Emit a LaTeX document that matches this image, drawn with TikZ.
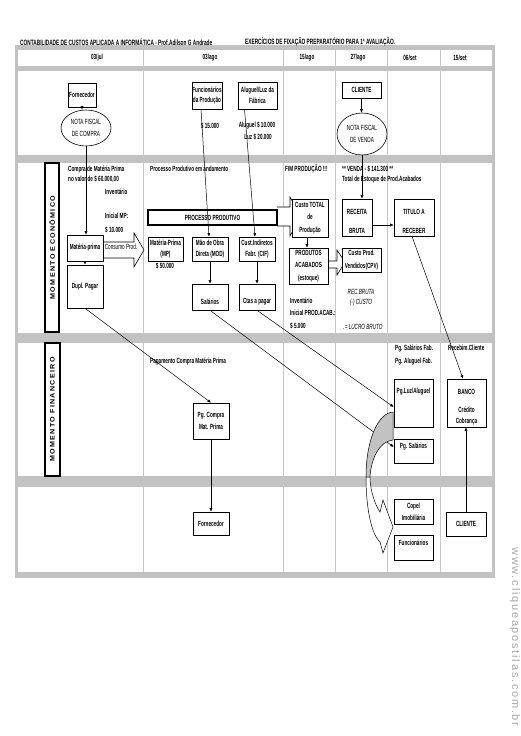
\documentclass[tikz,border=0pt]{standalone}
\usepackage{fontspec}
\setmainfont{Liberation Sans}
\newfontfamily\nar[FakeStretch=0.62]{Liberation Sans}
\newfontfamily\wid[LetterSpace=20,FakeStretch=1.1]{Liberation Sans}
\newfontfamily\wmk[LetterSpace=16]{Liberation Sans}
\usetikzlibrary{arrows.meta,shapes.geometric}
\pgfdeclarelayer{bgl}
\pgfdeclarelayer{midl}
\pgfsetlayers{bgl,midl,main}
\definecolor{band}{gray}{0.76}
\definecolor{divc}{gray}{0.78}
\newcommand\bsz{\nar\bfseries\fontsize{7.5}{10.5}\selectfont}
\begin{document}
\begin{tikzpicture}[x=1pt,y=-1pt,
  bx/.style={draw, line width=0.6pt, fill=white, inner sep=0pt, align=center, font=\bsz},
  tx/.style={inner sep=0pt, align=center, font=\bsz},
  lb/.style={inner sep=0pt, anchor=west, font=\bsz, text height=5.5pt, text depth=1.6pt},
  it/.style={inner sep=0pt, font=\nar\itshape\fontsize{7.5}{8}\selectfont},
  rg/.style={inner sep=0pt, align=center, font=\nar\fontsize{7.5}{12}\selectfont},
  ar/.style={-{Latex[length=3.5pt,width=3pt]}, line width=0.5pt},
  blk/.style={draw, line width=0.6pt, fill=white},
  mom/.style={rotate=90, inner sep=0pt, font=\wid\bfseries\fontsize{6.5}{7}\selectfont},
  dt/.style={inner sep=0pt, font=\bsz},
]
\useasboundingbox (0,0) rectangle (520,736);
\begin{pgfonlayer}{bgl}
\fill[band] (15,45) rectangle (495,578);
\fill[white] (18,50) rectangle (492,66);
\fill[white] (18,71) rectangle (492,155);
\fill[white] (18,163) rectangle (492,333);
\fill[white] (18,343) rectangle (492,476);
\fill[white] (18,487) rectangle (492,572);
\foreach \x in {143,283,335,387,440} \draw[divc, line width=0.8pt] (\x,50) -- (\x,572);
\end{pgfonlayer}

% titles
\node[anchor=west, inner sep=0pt, font=\nar\bfseries\fontsize{7.7}{8}\selectfont] (t1) at (20,42) {CONTABILIDADE DE CUSTOS APLICADA A INFORMÁTICA - Prof.Adilson G Andrade};
\node[anchor=west, inner sep=0pt, font=\nar\bfseries\fontsize{7.7}{8}\selectfont] (t2) at (245,42) {EXERCÍCIOS DE FIXAÇÃO PREPARATÓRIO PARA 1ª AVALIAÇÃO.};
% dates
\node[dt] (d1) at (97,58) {03/jul};
\node[dt] (d2) at (210,58) {03/ago};
\node[dt] (d3) at (307,58) {15/ago};
\node[dt] (d4) at (358,58) {27/ago};
\node[dt] (d5) at (410,58) {06/set};
\node[dt] (d6) at (460,58) {15/set};

% momento boxes
\node[draw, line width=1.4pt, minimum width=14pt, minimum height=169pt, inner sep=0pt] (me) at (52,247.5) {};
\node[mom] (met) at (me.center) {MOMENTO ECONÔMICO};
\node[draw, line width=1.4pt, minimum width=15pt, minimum height=133pt, inner sep=0pt] (mf) at (52.5,409.5) {};
\node[mom] (mft) at (mf.center) {MOMENTO FINANCEIRO};

% top section
\node[bx, minimum width=28pt, minimum height=24pt] (fornA) at (82,95) {Fornecedor};
\node[draw, ellipse, line width=0.6pt, fill=white, minimum width=50pt, minimum height=36pt, inner sep=0pt, rg] (nfc) at (86,128) {NOTA FISCAL\\DE COMPRA};
\node[bx, minimum width=30pt, minimum height=27pt] (func) at (207,95.5) {Funcionários\\da Produção};
\node[tx] (v15) at (210,126) {\$ 15.000};
\node[bx, minimum width=39pt, minimum height=27pt] (alug) at (257.5,95.5) {Aluguel/Luz da\\Fábrica};
\node[tx] (v10) at (257,126) {Aluguel \$ 10.000};
\node[tx] (v20) at (258,137) {Luz \$ 20.000};
\node[bx, minimum width=39pt, minimum height=16pt] (cli) at (361.5,90) {CLIENTE};
\node[draw, ellipse, line width=0.6pt, fill=white, minimum width=50pt, minimum height=42pt, inner sep=0pt, rg] (nfv) at (362,134) {NOTA FISCAL\\DE VENDA};

% economic section labels
\node[lb] (l1) at (68,170) {Compra de Matéria Prima};
\node[lb] (l2) at (68,180) {no valor de \$ 60.000,00};
\node[lb] (l3) at (105,193) {Inventário};
\node[lb] (l4) at (105,217) {Inicial MP:};
\node[lb] (l5) at (105,231) {\$ 10.000};
\node[lb] (l6) at (150,170) {Processo Produtivo em andamento};
\node[lb] (l7) at (285,170) {FIM PRODUÇÃO !!!};
\node[lb] (l8) at (342,170) {** VENDA - \$ 141.300 **};
\node[lb] (l9) at (342,180) {Total de Estoque de Prod.Acabados};
\node[lb] (l10) at (290,302) {Inventário};
\node[lb] (l11) at (290,314) {Inicial PROD.ACAB.:};
\node[lb] (l12) at (290,327) {\$ 5.000};
\node[it] (i1) at (361,292) {REC.BRUTA};
\node[it] (i2) at (361,303) {(-) CUSTO};
\node[it] (i3) at (363,327) {.= LUCRO BRUTO};

% block arrows (behind boxes)
\begin{pgfonlayer}{midl}
\draw[blk] (277,207) -- (290,207) -- (290,197) -- (301,216) -- (290,236) -- (290,226) -- (277,226);
\draw[blk] (328,261) -- (337,261) -- (337,250) -- (345,262) -- (337,275) -- (337,268) -- (328,268);
\end{pgfonlayer}
\draw[blk] (103,242) -- (134,242) -- (134,233) -- (144,250) -- (134,267) -- (134,258) -- (103,258);
\node[rg] (cons) at (121,247) {Consumo Prod.};

\node[bx, minimum width=36pt, minimum height=26pt] (matp) at (85,248) {Matéria-prima};
\node[bx, minimum width=36pt, minimum height=43pt] (dupl) at (85,286.5) {Dupl. Pagar};
\node[bx, minimum width=129pt, minimum height=15pt, line width=1.5pt] (pp) at (212.5,217.5) {PROCESSO PRODUTIVO};
\node[bx, minimum width=35pt, minimum height=24pt] (mp) at (165.5,249) {Matéria-Prima\\(MP)};
\node[tx] (v50) at (165,266) {\$ 50.000};
\node[bx, minimum width=36pt, minimum height=24pt] (mod) at (210,249) {Mão de Obra\\Direta (MOD)};
\node[bx, minimum width=36pt, minimum height=24pt] (cif) at (257,249) {Cust.Indiretos\\Fabr. (CIF)};
\node[bx, minimum width=36pt, minimum height=26pt] (sal) at (210,297) {};
\node[tx] (salt) at (210,302) {Salários};
\node[bx, minimum width=36pt, minimum height=26pt] (ctas) at (257,297) {};
\node[tx] (ctast) at (257,302) {Ctas a pagar};
\node[bx, minimum width=36pt, minimum height=38pt, font=\nar\bfseries\fontsize{7.5}{12.5}\selectfont] (ctp) at (310,218) {Custo TOTAL\\de\\Produção};
\node[bx, minimum width=39pt, minimum height=36pt, font=\nar\bfseries\fontsize{7.5}{12.5}\selectfont] (pa) at (308.5,266) {PRODUTOS\\ACABADOS\\(estoque)};
\node[bx, minimum width=39pt, minimum height=24pt, font=\nar\bfseries\fontsize{7.5}{12.5}\selectfont] (cpv) at (361.5,260) {Custo Prod.\\Vendidos(CPV)};
\node[bx, minimum width=30pt, minimum height=37pt] (rb) at (357,217.5) {};
\node[tx] (rbt1) at (357,212) {RECEITA};
\node[tx] (rbt2) at (357,231) {BRUTA};
\node[bx, minimum width=40pt, minimum height=37pt] (tit) at (414,217.5) {};
\node[tx] (tit1) at (414,212) {TITULO A};
\node[tx] (tit2) at (414,231) {RECEBER};

% financial section
\node[lb] (l13) at (150,362) {Pagamento Compra Matéria Prima};
\node[lb] (l14) at (395,349) {Pg. Salários Fab.};
\node[lb] (l15) at (395,362) {Pg. Aluguel Fab.};
\node[lb] (l16) at (448,349) {Recebim.Cliente};
\node[bx, minimum width=36pt, minimum height=36pt, font=\nar\bfseries\fontsize{7.5}{12.5}\selectfont] (pgc) at (211,421) {Pg. Compra\\Mat. Prima};
\node[bx, minimum width=39pt, minimum height=48pt] (pgl) at (413.5,403) {};
\node[tx] (pglt) at (413.5,392) {Pg.Luz/Aluguel};
\node[bx, minimum width=39pt, minimum height=24pt] (pgs) at (413.5,451) {};
\node[tx] (pgst) at (413.5,447) {Pg. Salários};
\node[bx, minimum width=39pt, minimum height=48pt] (banco) at (466.5,403) {};
\node[tx] (bt1) at (466.5,392) {BANCO};
\node[tx] (bt2) at (466.5,410) {Crédito};
\node[tx] (bt3) at (466.5,422) {Cobrança};

% bottom section
\node[bx, minimum width=36pt, minimum height=23pt] (fornB) at (211,523.5) {Fornecedor};
\node[bx, minimum width=39pt, minimum height=25pt, font=\nar\bfseries\fontsize{7.5}{12}\selectfont] (copel) at (413.5,511.5) {Copel\\Imobiliária};
\node[bx, minimum width=39pt, minimum height=25pt] (func2) at (413.5,547.5) {};
\node[tx] (f2t) at (413.5,543) {Funcionários};
\node[bx, minimum width=40pt, minimum height=24pt] (cli2) at (466,524) {CLIENTE};

% connectors
\draw[ar] (fornA.south) -- (fornA.south |- nfc.north);
\draw[ar] (nfc.south) -- (nfc.south |- matp.north);
\draw[ar] (matp.south) -- (dupl.north);
\draw[ar] ([xshift=-6pt]func.south) -- ([xshift=-1pt]mod.north);
\draw[ar] ([xshift=-13pt]alug.south) -- ([xshift=-2pt]cif.north);
\draw[ar] (mod.south) -- (sal.north);
\draw[ar] (cif.south) -- (ctas.north);
\draw[ar] (cli.south) -- (cli.south |- nfv.north);
\draw[ar] (nfv.south) -- (nfv.south |- rb.north);
\draw[ar] ([xshift=-3pt]ctp.south) -- ([xshift=-3pt]ctp.south |- pa.north);
\draw[ar] ([yshift=-7.5pt]rb.east) -- ([yshift=-7.5pt]rb.east -| tit.west);
\draw[ar] ([xshift=-2pt]tit.south) -- ([xshift=-3.5pt]banco.north);
\draw[ar] (dupl.south) -- (pgc.north);
\draw[ar] (pgc.south) -- (fornB.north);
\draw[ar] (sal.south) -- ([yshift=4pt]pgs.west);
\draw[ar] (ctas.south) -- ([yshift=-4pt]pgl.west);
\draw[ar] (cli2.north) -- (cli2.north |- banco.south);

% curved arrow
\draw[line width=0.5pt, fill=band] (393,412) .. controls (378,413) and (366,440) .. (366,477) -- (370,477) .. controls (371,458) and (380,441) .. (393,440) -- cycle;
\draw[line width=0.5pt, fill=white] (366,477) .. controls (366,510) and (372,535) .. (380,542) -- (383,553) -- (393,527) -- (383,500) -- (380,512) .. controls (375,505) and (370,490) .. (370,477) -- cycle;

% watermark
\node[rotate=-90, text=gray!70, font=\wmk\fontsize{11}{11}\selectfont, inner sep=0pt] (wm) at (515,637) {www.cliqueapostilas.com.br};
\end{tikzpicture}
\end{document}
